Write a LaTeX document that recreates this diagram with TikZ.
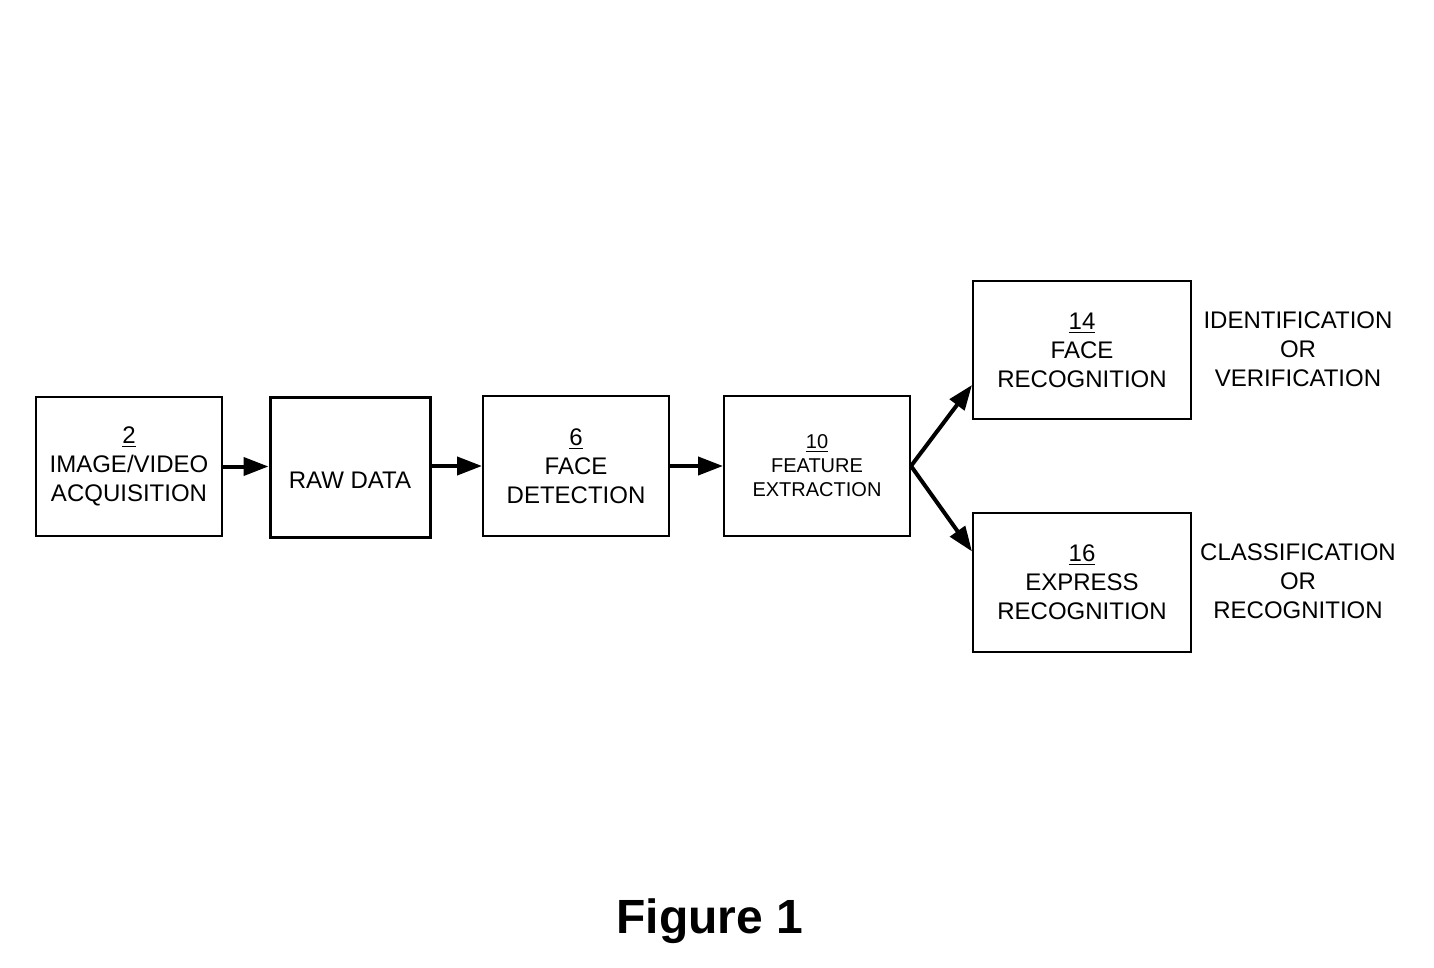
\documentclass[tikz,border=0pt]{standalone}
\usepackage{fontspec}
\setmainfont{Liberation Sans}
\usetikzlibrary{arrows.meta,calc}
\begin{document}
\begin{tikzpicture}[x=0.5pt,y=-0.5pt,
  blk/.style={draw,line width=1pt,rectangle,align=center,inner sep=0pt,
    font=\fontsize{12pt}{14.5pt}\selectfont},
  lbl/.style={align=center,inner sep=0pt,font=\fontsize{12pt}{14.5pt}\selectfont},
  arr/.style={line width=2pt,-{Triangle[length=12.5pt,width=9pt]}}]
\useasboundingbox[fill=white] (0,0) rectangle (1434,968);
\node[blk,minimum width=93pt,minimum height=69.5pt] (b2) at (129,466.5)
  {\underline{2}\\IMAGE/VIDEO\\ACQUISITION};
\node[blk,line width=1.5pt,minimum width=80pt,minimum height=70pt,text height=21pt,text depth=0pt] (raw) at (350,467)
  {RAW DATA};
\node[blk,minimum width=93pt,minimum height=70pt] (b6) at (576,466)
  {\underline{6}\\FACE\\DETECTION};
\node[blk,minimum width=93pt,minimum height=70pt,font=\fontsize{10pt}{12pt}\selectfont] (b10) at (817,466)
  {\underline{10}\\FEATURE\\EXTRACTION};
\node[blk,minimum width=109pt,minimum height=69pt] (b14) at (1082,350)
  {\underline{14}\\FACE\\RECOGNITION};
\node[blk,minimum width=109pt,minimum height=69.5pt] (b16) at (1082,582.5)
  {\underline{16}\\EXPRESS\\RECOGNITION};
\node[lbl] (l14) at (1298,349) {IDENTIFICATION\\OR\\VERIFICATION};
\node[lbl] (l16) at (1298,581) {CLASSIFICATION\\OR\\RECOGNITION};
\node[font=\fontsize{24pt}{28pt}\selectfont\bfseries,inner sep=0pt] (fig) at (710,921) {Figure 1};
\draw[arr] (b2.east) -- (raw.west|-b2.east);
\draw[arr] (raw.east|-b6.west) -- (b6.west);
\draw[arr] (b6.east) -- (b10.west);
\draw[arr] (b10.east) -- ($(b14.west)!0.5!(b14.south west)$);
\draw[arr] (b10.east) -- ($(b16.west)!0.44!(b16.north west)$);
\end{tikzpicture}
\end{document}
